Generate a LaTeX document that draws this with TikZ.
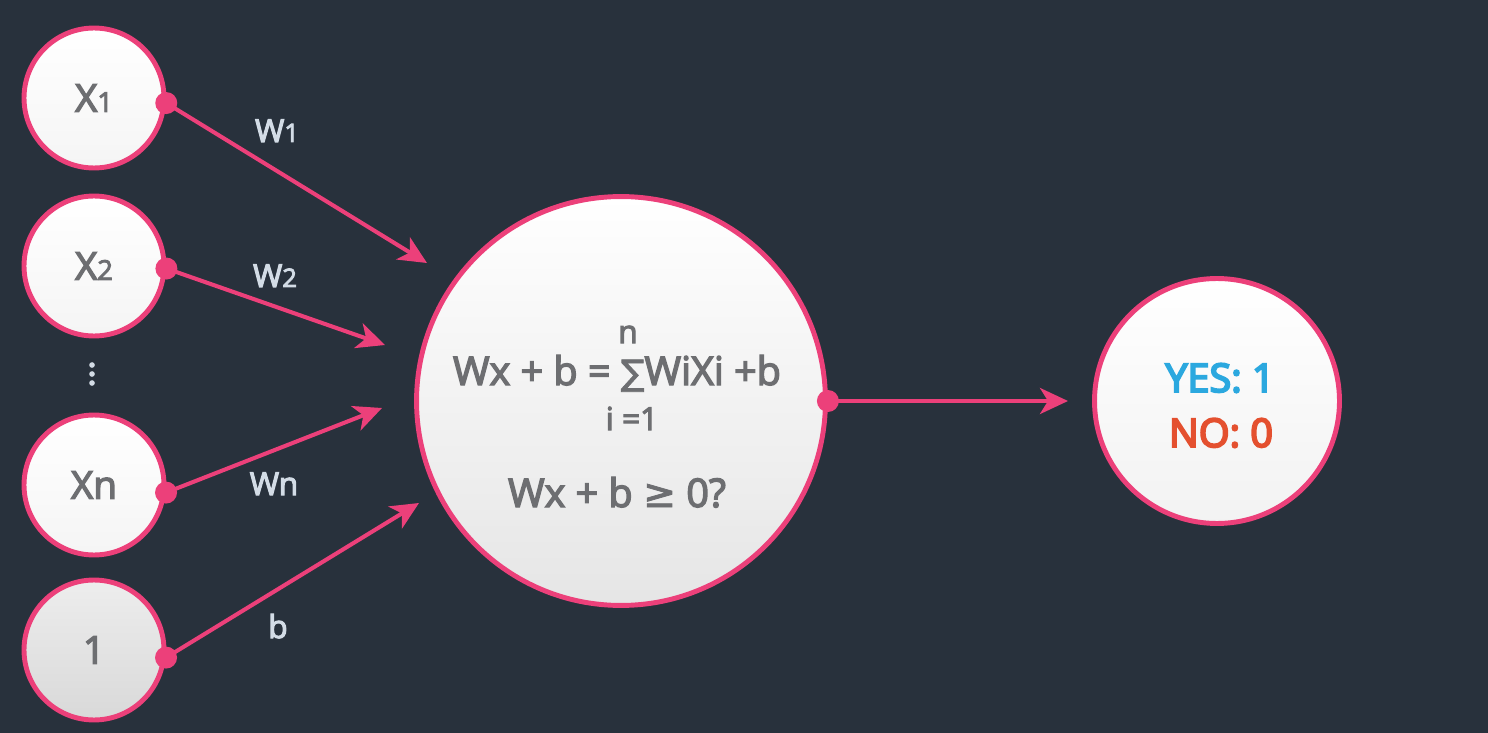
\documentclass[tikz,border=0pt]{standalone}
\usepackage{fontspec}
\setmainfont{Open Sans}[FakeBold=3.5]
\newfontfamily\symfont{DejaVu Sans}[FakeBold=2]
\newfontfamily\semib{Open Sans}[FakeBold=5]
\usetikzlibrary{positioning,arrows.meta,calc}
\definecolor{bgdark}{HTML}{28313C}
\definecolor{pinkln}{HTML}{EC407A}
\definecolor{txtgray}{HTML}{6D6E71}
\definecolor{lblgray}{HTML}{D3DCE6}
\definecolor{yesblue}{HTML}{2BA8DF}
\definecolor{nored}{HTML}{E4502F}
\newcommand{\lowdig}[1]{{\fontsize{15.5}{16}\selectfont #1}}
\newcommand{\lbldig}[1]{{\fontsize{14.5}{16}\selectfont #1}}
\tikzset{
  >={Stealth[length=5.6mm,width=5.2mm,inset=1.6mm]},
  innode/.style={circle,draw=pinkln,line width=2.8pt,minimum size=2.8cm,
    inner sep=0pt,top color=white,bottom color=white!92!gray,text=txtgray,
    font=\fontsize{22}{26}\selectfont},
  biasnode/.style={innode,top color=gray!14,bottom color=gray!30},
  sumnode/.style={innode,minimum size=8.18cm,bottom color=gray!20},
  outnode/.style={innode,minimum size=4.9cm,bottom color=gray!10},
  pdot/.style={circle,fill=pinkln,inner sep=0pt,minimum size=4.4mm},
  conn/.style={->,draw=pinkln,fill=pinkln,line width=2.3pt},
  wlbl/.style={text=lblgray,font=\fontsize{18}{22}\selectfont,anchor=base},
  eqtxt/.style={text=txtgray,font=\fontsize{22.5}{26}\selectfont,anchor=base},
  limtxt/.style={text=txtgray,font=\fontsize{18}{22}\selectfont,anchor=base},
}
\begin{document}
\begin{tikzpicture}[x=0.02cm,y=-0.02cm]
  \fill[bgdark] (0,0) rectangle (1488,733);
  \useasboundingbox (0,0) rectangle (1488,733);
  % inputs
  \node[innode] (x1) at (94,98) {X\lowdig{1}};
  \node[innode] (x2) at (94,266) {X\lowdig{2}};
  \node[innode] (xn) at (94,485) {Xn};
  \node[biasnode] (one) at (94,650) {1};
  \foreach \yy in {365,374,383} \fill[lblgray] (92,\yy) circle (1.6pt);
  % neuron and output
  \node[sumnode] (sum) at (621,401) {};
  \node[outnode] (out) at (1217,401) {};
  \node[eqtxt] (lim1) at (628,343) {\fontsize{18}{22}\selectfont n};
  \node[eqtxt] (eq) at (617,385) {Wx + b = {\symfont\fontsize{20}{22}\selectfont ∑}WiXi +b};
  \node[limtxt] (lim0) at (632,430) {i =1};
  \node[eqtxt] (test) at (617,507) {Wx + b {\symfont ≥} 0?};
  \node[eqtxt,text=yesblue] (yes) at (1220,392) {\semib YES: 1};
  \node[eqtxt,text=nored] (no) at (1221,447) {\semib NO: 0};
  % connectors
  \node[pdot] (d1) at (x1.-4) {};
  \node[pdot] (d2) at (x2.-2) {};
  \node[pdot] (dn) at (xn.-6) {};
  \node[pdot] (db) at (one.-6) {};
  \node[pdot] (ds) at (sum.east) {};
  \coordinate (t1) at (427,263);
  \coordinate (t2) at (385,345);
  \coordinate (tn) at (382,408);
  \coordinate (tb) at (419,503);
  \coordinate (to) at (1068,401);
  \draw[conn] (d1.center) -- (t1);
  \draw[conn] (d2.center) -- (t2);
  \draw[conn] (dn.center) -- (tn);
  \draw[conn] (db.center) -- (tb);
  \draw[conn] (ds.center) -- (to);
  \node[wlbl] (w1) at (277,142) {W\lbldig{1}};
  \node[wlbl] (w2) at (275,287) {W\lbldig{2}};
  \node[wlbl] (wn) at (274,495) {Wn};
  \node[wlbl] (wb) at (278,638) {b};
\end{tikzpicture}
\end{document}
